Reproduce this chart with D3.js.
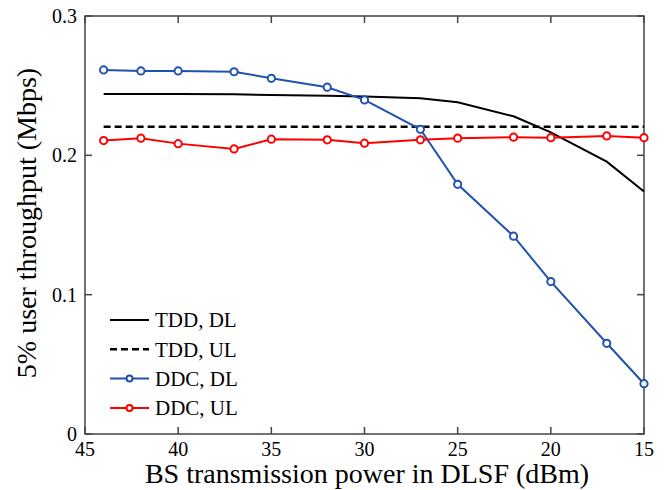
<!DOCTYPE html>
<html>
<head>
<meta charset="utf-8">
<script src="https://cdn.jsdelivr.net/npm/d3@7"></script>
<style>
  body { margin: 0; background: #fff; }
  svg { display: block; }
</style>
</head>
<body>
<svg id="chart" width="672" height="490"></svg>
<script>
// Data
const power = [44, 42, 40, 37, 35, 32, 30, 27, 25, 22, 20, 17, 15];
const tddDL = [0.2441, 0.2440, 0.2440, 0.2438, 0.2433, 0.2428, 0.2422, 0.2410, 0.2381, 0.2280, 0.2165, 0.1955, 0.1740];
const tddUL = [0.2205, 0.2205, 0.2205, 0.2205, 0.2205, 0.2205, 0.2205, 0.2205, 0.2205, 0.2205, 0.2205, 0.2205, 0.2205];
const ddcDL = [0.2613, 0.2606, 0.2606, 0.2600, 0.2553, 0.2489, 0.2398, 0.2187, 0.1792, 0.1420, 0.1094, 0.0651, 0.0361];
const ddcUL = [0.2106, 0.2123, 0.2084, 0.2046, 0.2116, 0.2111, 0.2087, 0.2111, 0.2123, 0.2130, 0.2127, 0.2139, 0.2127];

const xTicks = [45, 40, 35, 30, 25, 20, 15];
const yTicks = [0, 0.1, 0.2, 0.3];

const series = [
  { name: "TDD, DL", values: tddDL, color: "#000", dash: null, marker: false, width: 2 },
  { name: "TDD, UL", values: tddUL, color: "#000", dash: "7,4", marker: false, width: 2.5 },
  { name: "DDC, DL", values: ddcDL, color: "#2152b0", dash: null, marker: true, width: 2 },
  { name: "DDC, UL", values: ddcUL, color: "#ff0000", dash: null, marker: true, width: 2 }
];

const svg = d3.select("#chart");
const plotLeft = 85, plotRight = 644, plotTop = 16, plotBottom = 434;
const serif = '"Liberation Serif", "Times New Roman", serif';

const x = d3.scaleLinear().domain([45, 15]).range([plotLeft, plotRight]);
const y = d3.scaleLinear().domain([0, 0.3]).range([plotBottom, plotTop]);

const axisColor = "#444";
const tickLen = 7;

// Frame
svg.append("rect")
  .attr("x", plotLeft).attr("y", plotTop)
  .attr("width", plotRight - plotLeft).attr("height", plotBottom - plotTop)
  .attr("fill", "none")
  .attr("stroke", axisColor)
  .attr("stroke-width", 1.5);

// Inward ticks on all sides
const ticks = svg.append("g").attr("stroke", axisColor).attr("stroke-width", 1.5);
xTicks.forEach(t => {
  ticks.append("line").attr("x1", x(t)).attr("x2", x(t)).attr("y1", plotBottom).attr("y2", plotBottom - tickLen);
  ticks.append("line").attr("x1", x(t)).attr("x2", x(t)).attr("y1", plotTop).attr("y2", plotTop + tickLen);
});
yTicks.forEach(t => {
  ticks.append("line").attr("x1", plotLeft).attr("x2", plotLeft + tickLen).attr("y1", y(t)).attr("y2", y(t));
  ticks.append("line").attr("x1", plotRight).attr("x2", plotRight - tickLen).attr("y1", y(t)).attr("y2", y(t));
});

// Tick labels
svg.append("g").selectAll("text")
  .data(xTicks).enter().append("text")
  .attr("x", d => x(d))
  .attr("y", plotBottom + 22)
  .attr("text-anchor", "middle")
  .style("font-family", serif)
  .style("font-size", "20px")
  .text(d => d);

svg.append("g").selectAll("text")
  .data(yTicks).enter().append("text")
  .attr("x", plotLeft - 8)
  .attr("y", d => y(d))
  .attr("dy", "0.35em")
  .attr("text-anchor", "end")
  .style("font-family", serif)
  .style("font-size", "20px")
  .text(d => d === 0 ? "0" : d.toFixed(1));

// Axis titles
svg.append("text")
  .attr("x", 367)
  .attr("y", 483)
  .attr("text-anchor", "middle")
  .style("font-family", serif)
  .style("font-size", "28px")
  .text("BS transmission power in DLSF (dBm)");

svg.append("text")
  .attr("transform", "translate(36,223) rotate(-90)")
  .attr("text-anchor", "middle")
  .style("font-family", serif)
  .style("font-size", "28px")
  .text("5% user throughput (Mbps)");

// Lines
const line = d3.line()
  .x((d, i) => x(power[i]))
  .y(d => y(d));

series.forEach(s => {
  svg.append("path")
    .datum(s.values)
    .attr("d", line)
    .attr("fill", "none")
    .attr("stroke", s.color)
    .attr("stroke-width", s.width)
    .attr("stroke-dasharray", s.dash);

  if (s.marker) {
    svg.append("g").selectAll("circle")
      .data(s.values).enter().append("circle")
      .attr("cx", (d, i) => x(power[i]))
      .attr("cy", d => y(d))
      .attr("r", 3.6)
      .attr("fill", "#fff")
      .attr("stroke", s.color)
      .attr("stroke-width", 2);
  }
});

// Legend
const legend = svg.append("g");
series.forEach((s, i) => {
  const ly = 320 + i * 29.3;
  legend.append("line")
    .attr("x1", 110).attr("x2", 149)
    .attr("y1", ly).attr("y2", ly)
    .attr("stroke", s.color)
    .attr("stroke-width", s.width)
    .attr("stroke-dasharray", s.dash);
  if (s.marker) {
    legend.append("circle")
      .attr("cx", 129.5).attr("cy", ly).attr("r", 3)
      .attr("fill", "#fff")
      .attr("stroke", s.color)
      .attr("stroke-width", 2);
  }
  legend.append("text")
    .attr("x", 155)
    .attr("y", ly)
    .attr("dy", "0.35em")
    .style("font-family", serif)
    .style("font-size", "21px")
    .text(s.name);
});
</script>
</body>
</html>
